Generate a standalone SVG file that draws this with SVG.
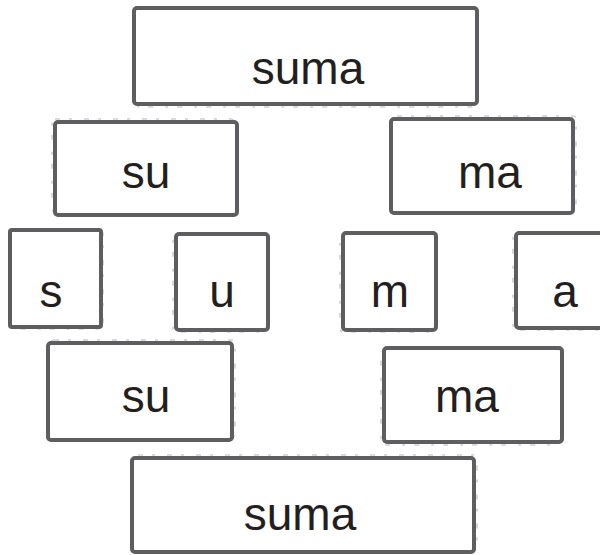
<svg xmlns="http://www.w3.org/2000/svg" width="600" height="555" viewBox="0 0 600 555">
  <style>
    .box { fill: #ffffff; stroke: #5e5e60; stroke-width: 4; stroke-linejoin: round; }
    .rough { fill: none; stroke: #cfcfd1; stroke-width: 1.6; stroke-dasharray: 5 9 3 12; }
    .lbl { font-family: "Liberation Sans", Arial, sans-serif; font-size: 46px; fill: #231f20; text-anchor: middle; }
  </style>
  <rect width="600" height="555" fill="#ffffff"/>
  <g id="connectors"></g>
  <g id="node-suma-top">
    <rect class="rough" x="137" y="11" width="340" height="96" rx="3"/>
    <rect class="box" x="134" y="8" width="343" height="96" rx="3"/>
    <text class="lbl" x="308" y="84">suma</text>
  </g>
  <g id="node-su-top">
    <rect class="rough" x="52" y="119" width="182" height="93" rx="3"/>
    <rect class="box" x="55" y="122" width="182" height="93" rx="3"/>
    <text class="lbl" x="146" y="188">su</text>
  </g>
  <g id="node-ma-top">
    <rect class="rough" x="394" y="116" width="182" height="94" rx="3"/>
    <rect class="box" x="391" y="119" width="182" height="94" rx="3"/>
    <text class="lbl" x="490" y="188">ma</text>
  </g>
  <g id="node-s">
    <rect class="rough" x="12" y="232" width="91" height="97" rx="2"/>
    <rect class="box" x="10" y="230" width="91" height="97" rx="2"/>
    <text class="lbl" x="51" y="307">s</text>
  </g>
  <g id="node-u">
    <rect class="rough" x="173" y="236" width="92" height="96" rx="3"/>
    <rect class="box" x="176" y="234" width="92" height="96" rx="3"/>
    <text class="lbl" x="222" y="307">u</text>
  </g>
  <g id="node-m">
    <rect class="rough" x="340" y="235" width="93" height="97" rx="3"/>
    <rect class="box" x="343" y="233" width="93" height="97" rx="3"/>
    <text class="lbl" x="390" y="307">m</text>
  </g>
  <g id="node-a">
    <rect class="rough" x="513" y="235" width="92" height="95" rx="3"/>
    <rect class="box" x="516" y="233" width="92" height="95" rx="3"/>
    <text class="lbl" x="565" y="307">a</text>
  </g>
  <g id="node-su-bottom">
    <rect class="rough" x="51" y="340" width="184" height="97" rx="3"/>
    <rect class="box" x="48" y="343" width="184" height="97" rx="3"/>
    <text class="lbl" x="146" y="412">su</text>
  </g>
  <g id="node-ma-bottom">
    <rect class="rough" x="381" y="351" width="178" height="94" rx="3"/>
    <rect class="box" x="384" y="348" width="178" height="94" rx="3"/>
    <text class="lbl" x="467" y="412">ma</text>
  </g>
  <g id="node-suma-bottom">
    <rect class="rough" x="135" y="455" width="342" height="94" rx="3"/>
    <rect class="box" x="132" y="458" width="342" height="94" rx="3"/>
    <text class="lbl" x="300" y="530">suma</text>
  </g>
</svg>
